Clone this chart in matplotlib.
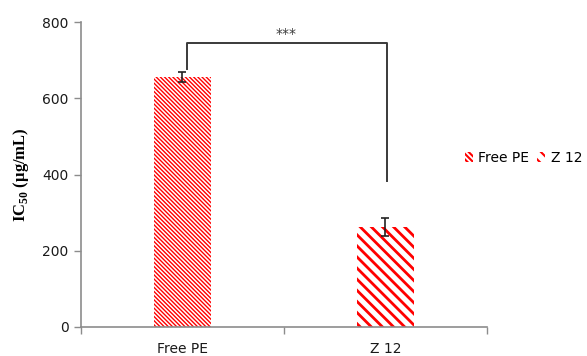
import matplotlib
matplotlib.use("Agg")
import matplotlib.pyplot as plt
from matplotlib.patches import Patch

categories = ["Free PE", "Z 12"]
ic50 = [656, 262]
ic50_err = [13, 23]
y_ticks = [0, 200, 400, 600, 800]
signif_label = "***"

plt.rcParams["font.family"] = ["DejaVu Sans"]
plt.rcParams["mathtext.fontset"] = "custom"
plt.rcParams["mathtext.rm"] = "Liberation Serif:bold"
plt.rcParams["mathtext.bf"] = "Liberation Serif:bold"

fig = plt.figure(figsize=(5.87, 3.56), dpi=100)
ax = fig.add_axes([0.138, 0.0815, 0.6916, 0.8565])

hatches = ["\\" * 8, "\\" * 3]
hatch_lws = [1.0, 2.0]
for i, (cat, val, err) in enumerate(zip(categories, ic50, ic50_err)):
    plt.rcParams["hatch.linewidth"] = hatch_lws[i]
    b = ax.bar(i, val, width=0.285, color="white", edgecolor="#ff0000",
               linewidth=0, hatch=hatches[i], label=cat, zorder=2)
    for p in b:
        if hasattr(p, "set_hatch_linewidth"):
            p.set_hatch_linewidth(hatch_lws[i])
    ax.errorbar(i, val, yerr=err, fmt="none", ecolor="#222222",
                elinewidth=1.2, capsize=3.2, capthick=1.2, zorder=3)

# significance bracket between the two groups
br_top = 745
ax.plot([0.022, 0.022, 1.007, 1.007], [677, br_top, br_top, 383],
        color="#3a3a3a", lw=1.4, solid_joinstyle="round", zorder=3)
ax.text(0.51, br_top + 5, signif_label, ha="center", va="bottom",
        fontsize=10, color="#3a3a3a")

ax.set_xlim(-0.5, 1.5)
ax.set_ylim(0, 800)
ax.set_yticks(y_ticks)
ax.set_xticks(range(len(categories)))
ax.set_xticklabels(categories)
ax.set_xticks([-0.5, 0.5, 1.5], minor=True)

for s in ["top", "right"]:
    ax.spines[s].set_visible(False)
for s in ["left", "bottom"]:
    ax.spines[s].set_color("#8c8c8c")
    ax.spines[s].set_linewidth(1.2)

ax.tick_params(axis="y", colors="#8c8c8c", labelcolor="#1a1a1a",
               length=5, width=1.0, labelsize=10, pad=4)
ax.tick_params(axis="x", which="major", length=0, labelcolor="#1a1a1a",
               labelsize=10, pad=11)
ax.tick_params(axis="x", which="minor", colors="#8c8c8c", length=5, width=1.0)

ax.set_ylabel(r"IC$_{\mathbf{50}}$ (µg/mL)", family="Liberation Serif",
              fontweight="bold", fontsize=12, labelpad=8)

plt.rcParams["hatch.linewidth"] = 1.5
handles = [Patch(facecolor="white", edgecolor="#ff0000", linewidth=0,
                 hatch=h) for h in ["\\" * 6, "\\" * 3]]
fig.legend(handles, categories, loc="center left", ncol=2,
           bbox_to_anchor=(0.792, 0.556), frameon=False, fontsize=10,
           handlelength=0.55, handleheight=0.7, handletextpad=0.4,
           columnspacing=0.6, borderpad=0, borderaxespad=0)

fig.savefig("out.png", dpi=100)
